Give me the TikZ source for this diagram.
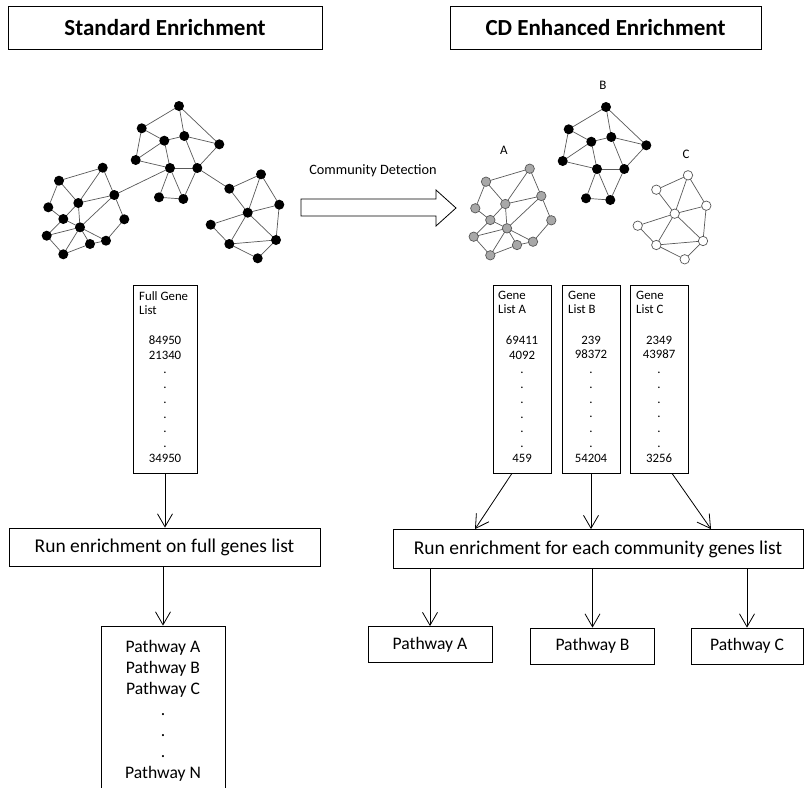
\documentclass[tikz,border=0pt]{standalone}
\usepackage{fontspec}
\setmainfont{Carlito}
\usepackage{tkz-euclide}
\usetikzlibrary{calc,arrows.meta}

\definecolor{edgegray}{gray}{0.35}
\definecolor{nodegray}{gray}{0.66}

\begin{document}
\begin{tikzpicture}[x=1pt,y=-1pt,
  titlebox/.style={draw,line width=0.8pt,minimum height=43,font=\fontsize{23}{28}\selectfont\bfseries},
  genebox/.style={draw,line width=0.7pt,inner sep=0,minimum width=58,minimum height=188},
  listhead/.style={anchor=north west,align=left,inner sep=0,font=\fontsize{12.8}{14}\selectfont},
  numlist/.style={align=center,inner sep=0,font=\fontsize{12.8}{14.75}\selectfont},
  runbox/.style={draw,line width=0.8pt,minimum height=38,font=\fontsize{19.5}{23}\selectfont},
  pathbox/.style={draw,line width=0.8pt,minimum width=124,minimum height=36,align=center,font=\fontsize{17.6}{21}\selectfont},
  netedge/.style={draw=edgegray,line width=0.7pt},
  blackdot/.style={fill=black},
  graydot/.style={fill=nodegray,draw=edgegray,line width=0.7pt},
  whitedot/.style={fill=white,draw=edgegray,line width=0.7pt},
  arr/.style={-{Straight Barb[length=13pt,width=15pt]},line width=0.8pt}]

\useasboundingbox (0,0) rectangle (805,787);

% titles
\node[titlebox,minimum width=314] (stdTitle) at (165,27.5) {Standard Enrichment};
\node[titlebox,minimum width=311] (cdTitle) at (605.5,27.5) {CD Enhanced Enrichment};

% network points
\def\ptsL{1/102.7/167.7, 2/59/180.7, 3/114.3/195, 4/78.3/203, 5/48.3/207.3, 6/63.3/219,
  7/124.3/219.3, 8/80/227.3, 9/46.7/235.7, 10/106/240.7, 11/90/244, 12/63.3/254.3}
\def\ptsT{1/179/106, 2/141.7/128.3, 3/164.3/140.7, 4/184.3/136, 5/219.3/144.3,
  6/135.7/160, 7/170/168, 8/197.3/168, 9/159/197.3, 10/183.3/199}
\def\ptsR{1/261/174.3, 2/229.3/188.7, 3/279.3/204.7, 4/247.7/212.7, 5/210.7/224.7,
  6/229.3/244, 7/276/240, 8/257.7/258.3}
\def\edgL{1/2, 1/4, 1/3, 2/4, 2/5, 4/3, 4/6, 4/8, 5/6, 3/7, 3/8, 6/8, 6/9, 8/9,
  8/12, 8/11, 8/10, 7/10, 10/11, 11/12, 9/12}
\def\edgT{1/2, 1/4, 1/5, 2/3, 2/6, 3/4, 3/6, 3/7, 4/5, 4/8, 5/8, 6/7, 7/8, 7/9,
  7/10, 8/10, 9/10}
\def\edgR{1/2, 2/4, 1/4, 1/3, 3/4, 4/5, 5/6, 4/6, 4/7, 3/7, 6/7, 6/8, 7/8}

\foreach \n/\x/\y in \ptsL {\tkzDefPoint(\x,\y){L\n}}
\foreach \n/\x/\y in \ptsT {\tkzDefPoint(\x,\y){T\n}}
\foreach \n/\x/\y in \ptsR {\tkzDefPoint(\x,\y){R\n}}
\begin{scope}[shift={(427,1)}]
\foreach \n/\x/\y in \ptsL {\tkzDefPoint(\x,\y){A\n}}
\foreach \n/\x/\y in \ptsT {\tkzDefPoint(\x,\y){B\n}}
\foreach \n/\x/\y in \ptsR {\tkzDefPoint(\x,\y){C\n}}
\end{scope}

% full network
\foreach \a/\b in \edgL {\draw[netedge] (L\a) -- (L\b);}
\foreach \a/\b in \edgT {\draw[netedge] (T\a) -- (T\b);}
\foreach \a/\b in \edgR {\draw[netedge] (R\a) -- (R\b);}
\draw[netedge] (T7) -- (L3);
\draw[netedge] (T8) -- (R2);

% communities
\foreach \a/\b in \edgL {\draw[netedge] (A\a) -- (A\b);}
\foreach \a/\b in \edgT {\draw[netedge] (B\a) -- (B\b);}
\foreach \a/\b in \edgR {\draw[netedge] (C\a) -- (C\b);}

\foreach \n in {1,...,12} {\path[blackdot] (L\n) circle (5);}
\foreach \n in {1,...,10} {\path[blackdot] (T\n) circle (5); \path[blackdot] (B\n) circle (5);}
\foreach \n in {1,...,8} {\path[blackdot] (R\n) circle (5);}
\foreach \n in {1,...,12} {\path[graydot] (A\n) circle (4.7);}
\foreach \n in {1,...,8} {\path[whitedot] (C\n) circle (4.7);}

\node[font=\fontsize{13}{15}\selectfont] (labA) at (504,150) {A};
\node[font=\fontsize{13}{15}\selectfont] (labB) at (603,85) {B};
\node[font=\fontsize{13}{15}\selectfont] (labC) at (686,154) {C};

% community detection arrow
\node[font=\fontsize{14.3}{17}\selectfont] (cdText) at (373,171) {Community Detection};
\draw[line width=0.8pt] (301,199) -- (436,199) -- (436,190) -- (456,208)
  -- (436,226) -- (436,216) -- (301,216) -- cycle;

% gene lists
\node[genebox,minimum width=64] (fullList) at (165,379) {};
\node[genebox] (listA) at (522,379) {};
\node[genebox] (listB) at (591,379) {};
\node[genebox] (listC) at (659,379) {};

\node[listhead] (fullHead) at (139,291) {Full Gene\\List};
\node[listhead] (headA) at (498,291) {Gene\\List A};
\node[listhead] (headB) at (568,291) {Gene\\List B};
\node[listhead] (headC) at (636,291) {Gene\\List C};

\node[numlist] (fullNums) at (165,399) {84950\\21340\\.\\.\\.\\.\\.\\.\\34950};
\node[numlist] (numsA) at (522,399) {69411\\4092\\.\\.\\.\\.\\.\\.\\459};
\node[numlist] (numsB) at (591,399) {239\\98372\\.\\.\\.\\.\\.\\.\\54204};
\node[numlist] (numsC) at (659,399) {2349\\43987\\.\\.\\.\\.\\.\\.\\3256};

% enrichment
\node[runbox,minimum width=311] (runFull) at (164.5,547) {Run enrichment on full genes list};
\node[runbox,minimum width=410,minimum height=39] (runCD) at (598,549) {Run enrichment for each community genes list};

\node[pathbox,minimum height=170] (pathAll) at (163,711)
  {Pathway A\\Pathway B\\Pathway C\\.\\.\\.\\Pathway N};
\node[pathbox] (pathA) at (430,644.5) {Pathway A};
\node[pathbox] (pathB) at (592.5,646) {Pathway B};
\node[pathbox,minimum width=112] (pathC) at (747,646) {Pathway C};

\draw[arr] (fullList.south) -- (fullList.south |- runFull.north);
\draw[arr] (pathAll.north |- runFull.south) -- (pathAll.north);
\draw[arr] ([xshift=-10]listA.south) -- ([xshift=-123]runCD.north);
\draw[arr] (listB.south) -- (listB.south |- runCD.north);
\draw[arr] ([xshift=13]listC.south) -- ([xshift=113]runCD.north);
\draw[arr] (pathA.north |- runCD.south) -- (pathA.north);
\draw[arr] (pathB.north |- runCD.south) -- (pathB.north);
\draw[arr] (pathC.north |- runCD.south) -- (pathC.north);

\end{tikzpicture}
\end{document}
